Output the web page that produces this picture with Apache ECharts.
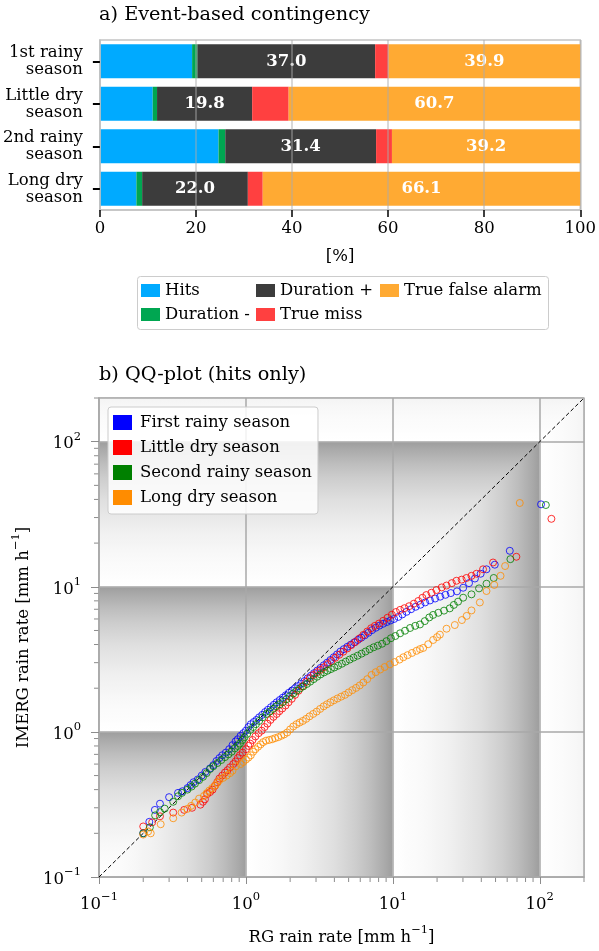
<!DOCTYPE html>
<html>
<head>
<meta charset="utf-8">
<script src="https://cdn.jsdelivr.net/npm/echarts@6/dist/echarts.min.js"></script>
<style>
  html, body { margin: 0; padding: 0; background: #fff; }
  #chart { width: 599px; height: 951px; }
</style>
</head>
<body>
<div id="chart"></div>
<script>
// ---- a) event-based contingency (percent of events) ----
const seasons = ['1st rainy\nseason', 'Little dry\nseason', '2nd rainy\nseason', 'Long dry\nseason'];
const hits = [19.2, 11.0, 24.7, 7.6];
const durationMinus = [1.1, 0.9, 1.4, 1.2];
const durationPlus = [37.0, 19.8, 31.4, 22.0];
const trueMiss = [2.8, 7.6, 3.3, 3.1];
const trueFalseAlarm = [39.9, 60.7, 39.2, 66.1];
const percentTicks = [0, 20, 40, 60, 80, 100];

// ---- b) QQ-plot, [RG, IMERG] quantiles in mm/h ----
const firstRainyQQ = [
  [0.20,0.20],[0.22,0.24],[0.24,0.29],[0.26,0.32],[0.30,0.355],[0.345,0.38],[0.37,0.39],[0.40,0.41],
  [0.42,0.43],[0.44,0.45],[0.47,0.47],[0.50,0.50],[0.53,0.53],[0.57,0.56],[0.60,0.59],[0.63,0.63],
  [0.66,0.66],[0.69,0.69],[0.73,0.72],[0.77,0.76],[0.81,0.81],[0.85,0.86],[0.88,0.89],[0.92,0.94],
  [0.96,0.98],[1.00,1.02],[1.04,1.08],[1.08,1.13],[1.13,1.17],[1.18,1.21],[1.23,1.26],[1.29,1.31],
  [1.35,1.37],[1.41,1.42],[1.48,1.48],[1.55,1.54],[1.62,1.60],[1.70,1.66],[1.78,1.72],[1.87,1.79],
  [1.96,1.86],[2.06,1.93],[2.16,2.00],[2.27,2.07],[2.38,2.15],[2.50,2.24],[2.63,2.34],[2.77,2.44],
  [2.91,2.54],[3.06,2.65],[3.22,2.76],[3.39,2.88],[3.57,3.00],[3.76,3.13],[3.96,3.27],[4.17,3.42],
  [4.40,3.58],[4.64,3.72],[4.90,3.86],[5.17,3.99],[5.46,4.14],[5.77,4.30],[6.10,4.46],[6.45,4.63],
  [6.82,4.82],[7.22,5.03],[7.65,5.22],[8.10,5.40],[8.58,5.56],[9.10,5.72],[9.65,5.86],[10.2,6.00],
  [10.9,6.20],[11.6,6.45],[12.4,6.72],[13.3,7.00],[14.3,7.28],[15.4,7.52],[16.6,7.80],[17.9,8.05],
  [19.4,8.30],[21.0,8.55],[22.8,8.80],[24.8,9.05],[27.3,9.30],[30.1,9.85],[33.0,10.6],[36.2,11.4],
  [39.6,12.3],[43.4,13.2],[49.4,14.2],[62.5,17.7],[102.0,37.0]
];
const littleDryQQ = [
  [0.20,0.223],[0.23,0.238],[0.26,0.262],[0.32,0.278],[0.38,0.290],[0.43,0.300],[0.49,0.315],[0.51,0.330],
  [0.526,0.343],[0.545,0.373],[0.57,0.385],[0.593,0.40],[0.615,0.425],[0.638,0.45],[0.66,0.477],[0.69,0.50],
  [0.72,0.525],[0.75,0.545],[0.78,0.57],[0.82,0.60],[0.85,0.625],[0.88,0.66],[0.91,0.69],[0.95,0.72],
  [1.00,0.76],[1.04,0.80],[1.07,0.83],[1.11,0.88],[1.16,0.93],[1.22,0.98],[1.28,1.02],[1.34,1.08],
  [1.40,1.14],[1.47,1.21],[1.54,1.27],[1.62,1.33],[1.69,1.39],[1.77,1.45],[1.86,1.52],[1.95,1.60],
  [2.05,1.69],[2.16,1.80],[2.28,1.92],[2.42,2.06],[2.57,2.21],[2.72,2.35],[2.88,2.47],[3.05,2.58],
  [3.22,2.68],[3.40,2.79],[3.60,2.93],[3.82,3.08],[4.06,3.24],[4.32,3.40],[4.60,3.57],[4.90,3.76],
  [5.22,3.97],[5.56,4.17],[5.92,4.40],[6.30,4.66],[6.70,4.92],[7.12,5.18],[7.55,5.38],[8.05,5.58],
  [8.60,5.83],[9.20,6.12],[9.85,6.42],[10.5,6.70],[11.2,6.93],[12.0,7.12],[12.9,7.35],[13.9,7.65],
  [14.9,7.98],[15.9,8.40],[16.9,8.77],[18.3,9.10],[19.8,9.50],[21.5,9.90],[23.2,10.2],[25.2,10.6],
  [27.1,11.0],[29.4,11.2],[31.7,11.5],[34.3,11.9],[37.1,12.3],[41.1,13.2],[48.1,14.7],[69.3,16.1],
  [120.0,29.4]
];
const secondRainyQQ = [
  [0.20,0.20],[0.222,0.22],[0.241,0.266],[0.26,0.28],[0.28,0.296],[0.32,0.33],[0.345,0.36],[0.367,0.38],
  [0.40,0.40],[0.427,0.42],[0.45,0.44],[0.48,0.465],[0.51,0.49],[0.54,0.52],[0.57,0.555],[0.60,0.58],
  [0.64,0.61],[0.68,0.64],[0.72,0.67],[0.76,0.70],[0.80,0.73],[0.84,0.77],[0.88,0.80],[0.91,0.83],
  [0.95,0.88],[0.98,0.92],[1.02,0.97],[1.07,1.03],[1.12,1.08],[1.17,1.13],[1.23,1.19],[1.30,1.26],
  [1.38,1.33],[1.45,1.38],[1.53,1.44],[1.61,1.50],[1.70,1.55],[1.79,1.61],[1.89,1.68],[1.99,1.76],
  [2.10,1.84],[2.21,1.92],[2.33,1.99],[2.46,2.06],[2.60,2.14],[2.74,2.22],[2.89,2.31],[3.05,2.40],
  [3.22,2.49],[3.40,2.57],[3.59,2.64],[3.79,2.71],[4.00,2.78],[4.24,2.86],[4.50,2.95],[4.78,3.05],
  [5.08,3.15],[5.40,3.25],[5.75,3.35],[6.12,3.46],[6.52,3.58],[6.95,3.71],[7.40,3.83],[7.90,3.93],
  [8.45,4.05],[9.05,4.22],[9.70,4.42],[10.4,4.58],[11.2,4.78],[12.1,4.98],[13.1,5.20],[14.2,5.38],
  [15.3,5.50],[16.5,5.80],[17.7,6.15],[18.8,6.40],[20.4,6.62],[22.3,6.85],[24.4,7.10],[26.0,7.50],
  [27.8,7.90],[30.1,8.41],[34.3,8.87],[38.6,9.75],[43.4,10.5],[48.6,11.5],[63.1,15.5],[110.0,36.6]
];
const longDryQQ = [
  [0.20,0.196],[0.216,0.206],[0.225,0.20],[0.263,0.231],[0.32,0.254],[0.365,0.278],[0.40,0.295],[0.424,0.309],
  [0.452,0.326],[0.48,0.347],[0.518,0.362],[0.54,0.378],[0.563,0.394],[0.59,0.41],[0.618,0.427],[0.64,0.446],
  [0.66,0.465],[0.70,0.482],[0.74,0.50],[0.78,0.52],[0.81,0.54],[0.855,0.58],[0.92,0.60],[0.96,0.62],
  [1.00,0.644],[1.04,0.665],[1.08,0.69],[1.12,0.73],[1.16,0.76],[1.21,0.79],[1.26,0.82],[1.31,0.85],
  [1.37,0.87],[1.44,0.88],[1.51,0.89],[1.58,0.905],[1.66,0.92],[1.74,0.94],[1.82,0.96],[1.91,0.99],
  [2.00,1.04],[2.10,1.09],[2.21,1.13],[2.32,1.16],[2.44,1.19],[2.57,1.23],[2.71,1.28],[2.87,1.33],
  [3.03,1.38],[3.20,1.44],[3.38,1.50],[3.56,1.55],[3.76,1.60],[3.97,1.65],[4.20,1.70],[4.45,1.75],
  [4.72,1.80],[5.00,1.87],[5.30,1.94],[5.62,2.01],[5.95,2.09],[6.30,2.19],[6.70,2.31],[7.16,2.47],
  [7.65,2.58],[8.20,2.69],[8.80,2.80],[9.55,2.92],[10.3,3.03],[11.1,3.15],[11.8,3.27],[12.6,3.38],
  [13.5,3.50],[14.5,3.62],[15.3,3.72],[16.1,3.79],[17.4,4.02],[18.8,4.30],[20.0,4.50],[20.9,4.68],
  [23.2,5.14],[26.4,5.45],[29.5,5.90],[31.8,6.30],[34.3,6.87],[39.1,7.80],[43.4,9.35],[49.0,10.3],
  [54.1,11.9],[58.1,13.9],[73.1,37.8]
];
const rateRange = [0.1, 200];
const decadeEdges = [0.1, 1, 10, 100, 1000];
const minorTickValues = [0.2,0.3,0.4,0.5,0.6,0.7,0.8,0.9, 2,3,4,5,6,7,8,9, 20,30,40,50,60,70,80,90, 200];

const FONT = 'DejaVu Serif';
const FS = 16.5;      // regular text
const FS_SUP = 11.5;  // exponents
const FS_TITLE = 19.3;
const seasonColors = ['#0000ff', '#ff0000', '#008000', '#ff8c00'];
const seasonNames = ['First rainy season', 'Little dry season', 'Second rainy season', 'Long dry season'];

// grey ramp that darkens towards the upper edge of each rain-rate decade
function decadeStops() {
  const stops = [];
  for (let k = 0; k <= 20; k++) {
    const f = k / 20;
    const s = (Math.pow(10, f) - 1) / 9;
    const g = Math.round(255 - s * 98);
    stops.push({ offset: f, color: 'rgb(' + g + ',' + g + ',' + g + ')' });
  }
  return stops;
}
const STOPS = decadeStops();

// text with a raised exponent, e.g. 10^-1 or h^-1
const supRich = {
  b: { fontFamily: FONT, fontSize: FS, color: '#000', lineHeight: 22, verticalAlign: 'bottom' },
  s: { fontFamily: FONT, fontSize: FS_SUP, color: '#000', lineHeight: 22, verticalAlign: 'top' }
};
function powerLabel(v) {
  const e = Math.round(Math.log10(v));
  if (Math.abs(v - Math.pow(10, e)) > 1e-6 * v) return '';
  return '{b|10}{s|' + (e < 0 ? '\u2212' + (-e) : e) + '}';
}
const unitName = label => '{b|' + label + ' [mm h}{s|\u22121}{b|]}';

const chart = echarts.init(document.getElementById('chart'), null, { renderer: 'canvas' });

const barBase = {
  type: 'bar', stack: 'total', xAxisIndex: 0, yAxisIndex: 0, barWidth: '80%', z: 2
};
const valueLabel = {
  show: true, position: 'inside', color: '#fff', fontFamily: FONT, fontWeight: 'bold', fontSize: FS,
  formatter: p => p.value.toFixed(1)
};
const legendText = { fontFamily: FONT, fontSize: FS, color: '#000' };

const option = {
  animation: false,
  backgroundColor: '#fff',
  textStyle: { fontFamily: FONT },
  title: [
    { text: 'a) Event-based contingency', left: 99, top: 5, padding: 0,
      textStyle: { fontFamily: FONT, fontSize: FS_TITLE, fontWeight: 'normal', color: '#000' } },
    { text: 'b) QQ-plot (hits only)', left: 99, top: 365, padding: 0,
      textStyle: { fontFamily: FONT, fontSize: FS_TITLE, fontWeight: 'normal', color: '#000' } }
  ],
  graphic: [
    { type: 'rect', left: 137, top: 276, z: 0,
      shape: { width: 411, height: 53, r: 3 },
      style: { fill: '#fff', stroke: '#cccccc', lineWidth: 1 } }
  ],
  legend: [
    { data: ['Hits', 'Duration -'], orient: 'vertical', left: 141, top: 282, padding: 0,
      itemWidth: 19, itemHeight: 13, itemGap: 7, icon: 'rect', textStyle: legendText },
    { data: ['Duration +', 'True miss'], orient: 'vertical', left: 256, top: 282, padding: 0,
      itemWidth: 19, itemHeight: 13, itemGap: 7, icon: 'rect', textStyle: legendText },
    { data: ['True false alarm'], orient: 'vertical', left: 380, top: 282, padding: 0,
      itemWidth: 19, itemHeight: 13, itemGap: 7, icon: 'rect', textStyle: legendText },
    { data: seasonNames.map((n, i) => ({ name: n, itemStyle: { color: seasonColors[i], borderWidth: 0, opacity: 1 } })),
      orient: 'vertical', left: 108, top: 407, padding: [7, 6, 8, 5],
      backgroundColor: 'rgba(255,255,255,0.85)', borderColor: '#cccccc', borderWidth: 1, borderRadius: 3,
      itemWidth: 19, itemHeight: 15, itemGap: 8, icon: 'rect',
      textStyle: Object.assign({ padding: [0, 0, 0, 3] }, legendText) }
  ],
  grid: [
    { left: 99, top: 40, width: 485, height: 170, show: true, borderColor: '#c4c4c4', borderWidth: 1.5 },
    { left: 99, top: 398, width: 485, height: 483, show: true, borderColor: '#bdbdbd', borderWidth: 1.5 }
  ],
  xAxis: [
    { type: 'value', gridIndex: 0, min: percentTicks[0], max: percentTicks[percentTicks.length - 1], interval: 20, z: 5,
      name: '[%]', nameLocation: 'middle', nameGap: 38, nameTextStyle: legendText,
      axisLine: { show: true, lineStyle: { color: '#c4c4c4', width: 1.5 } },
      axisTick: { show: true, length: 7, lineStyle: { color: '#000', width: 1.5 } },
      axisLabel: { fontFamily: FONT, fontSize: FS, color: '#000', margin: 10 },
      splitLine: { show: true, lineStyle: { color: 'rgba(170,170,170,0.6)', width: 1.5 } } },
    { type: 'log', gridIndex: 1, min: rateRange[0], max: rateRange[1], logBase: 10, z: 3,
      name: unitName('RG rain rate'), nameLocation: 'middle', nameGap: 47,
      nameTextStyle: Object.assign({ rich: supRich }, legendText),
      axisLine: { show: true, lineStyle: { color: '#a8a8a8', width: 1.5 } },
      axisTick: { show: true, length: 7, lineStyle: { color: '#8c8c8c', width: 1 } },
      axisLabel: { margin: 14, formatter: powerLabel, rich: supRich, showMaxLabel: false },
      splitLine: { show: true, lineStyle: { color: '#a8a8a8', width: 1.5 } } }
  ],
  yAxis: [
    { type: 'category', gridIndex: 0, data: seasons, inverse: true, z: 5,
      axisLine: { show: true, lineStyle: { color: '#c4c4c4', width: 1.5 } },
      axisTick: { show: true, alignWithLabel: true, length: 7, lineStyle: { color: '#000', width: 2 } },
      axisLabel: { fontFamily: FONT, fontSize: FS, color: '#000', align: 'right', lineHeight: 17, margin: 17 } },
    { type: 'log', gridIndex: 1, min: rateRange[0], max: rateRange[1], logBase: 10, z: 3,
      name: unitName('IMERG rain rate'), nameLocation: 'middle', nameGap: 67,
      nameTextStyle: Object.assign({ rich: supRich }, legendText),
      axisLine: { show: true, lineStyle: { color: '#a8a8a8', width: 1.5 } },
      axisTick: { show: true, length: 8, lineStyle: { color: '#8c8c8c', width: 1 } },
      axisLabel: { margin: 18, formatter: powerLabel, rich: supRich, showMaxLabel: false },
      splitLine: { show: true, lineStyle: { color: '#a8a8a8', width: 1.5 } } }
  ],
  series: [
    Object.assign({}, barBase, { name: 'Hits', data: hits, itemStyle: { color: '#00aaff' } }),
    Object.assign({}, barBase, { name: 'Duration -', data: durationMinus, itemStyle: { color: '#00a651' } }),
    Object.assign({}, barBase, { name: 'Duration +', data: durationPlus, itemStyle: { color: '#3c3c3c' }, label: valueLabel }),
    Object.assign({}, barBase, { name: 'True miss', data: trueMiss, itemStyle: { color: '#ff4040' } }),
    Object.assign({}, barBase, { name: 'True false alarm', data: trueFalseAlarm, itemStyle: { color: '#ffaa33' }, label: valueLabel }),

    // shaded rain-rate decades behind the QQ points
    { type: 'custom', name: 'decades', xAxisIndex: 1, yAxisIndex: 1, silent: true, z: 1,
      data: decadeEdges.slice(0, -1).map((a, i) => [a, decadeEdges[i + 1]]),
      renderItem: function (params, api) {
        const a = api.value(0), b = api.value(1);
        const lo = rateRange[0], hi = rateRange[1];
        const bc = Math.min(b, hi);
        const P = (x, y) => api.coord([x, y]);
        const gx0 = P(a, lo)[0], gx1 = P(b, lo)[0];
        const gy0 = P(lo, a)[1], gy1 = P(lo, b)[1];
        const gH = new echarts.graphic.LinearGradient(gx0, 0, gx1, 0, STOPS, true);
        const gV = new echarts.graphic.LinearGradient(0, gy0, 0, gy1, STOPS, true);
        return { type: 'group', children: [
          { type: 'polygon', shape: { points: [P(a, lo), P(bc, lo), P(bc, bc), P(a, a)] },
            style: { fill: gH, stroke: gH, lineWidth: 0.6 } },
          { type: 'polygon', shape: { points: [P(lo, a), P(a, a), P(bc, bc), P(lo, bc)] },
            style: { fill: gV, stroke: gV, lineWidth: 0.6 } }
        ] };
      } },

    // minor ticks (2..9 of each decade) on both log axes
    { type: 'custom', name: 'minorTicks', xAxisIndex: 1, yAxisIndex: 1, silent: true, clip: false, z: 3,
      data: minorTickValues.map(v => [v]),
      renderItem: function (params, api) {
        const v = api.value(0);
        const px = api.coord([v, rateRange[0]]);
        const py = api.coord([rateRange[0], v]);
        const st = { stroke: '#8c8c8c', lineWidth: 1 };
        return { type: 'group', children: [
          { type: 'line', shape: { x1: px[0], y1: px[1], x2: px[0], y2: px[1] + 5 }, style: st },
          { type: 'line', shape: { x1: py[0] - 5, y1: py[1], x2: py[0], y2: py[1] }, style: st }
        ] };
      } },

    // 1:1 reference line
    { type: 'line', name: '1:1', xAxisIndex: 1, yAxisIndex: 1, silent: true, z: 4,
      data: [[rateRange[0], rateRange[0]], [rateRange[1], rateRange[1]]],
      symbol: 'none', lineStyle: { color: '#000', width: 1, type: [4, 2.5] } }
  ].concat([firstRainyQQ, littleDryQQ, secondRainyQQ, longDryQQ].map((d, i) => ({
    type: 'scatter', name: seasonNames[i], xAxisIndex: 1, yAxisIndex: 1, z: 5,
    data: d, symbol: 'circle', symbolSize: 7,
    itemStyle: { color: 'rgba(0,0,0,0)', borderColor: seasonColors[i], borderWidth: 1 }
  })))
};

chart.setOption(option);
</script>
</body>
</html>
